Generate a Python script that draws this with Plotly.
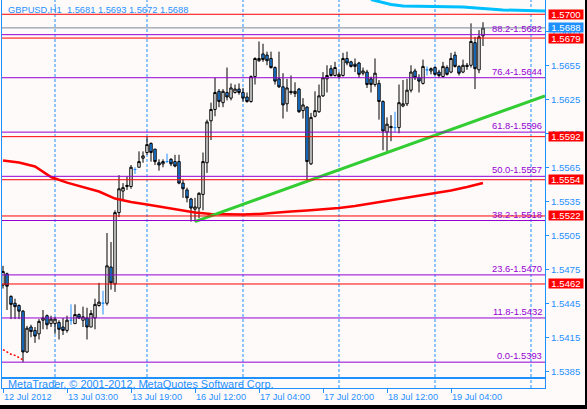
import plotly.graph_objects as go

# ---------------- data ----------------
open_ = [1.5461, 1.5471, 1.5451, 1.5445, 1.5443, 1.5438, 1.5402, 1.5424, 1.5421, 1.5418,
         1.5430, 1.5434, 1.5427, 1.5427, 1.5428, 1.5424, 1.5421, 1.5430, 1.5427, 1.5435,
         1.5430, 1.5432, 1.5424, 1.5432, 1.5443, 1.5445, 1.5445, 1.5477, 1.5462, 1.5525,
         1.5544, 1.5548, 1.5548, 1.5563, 1.5565, 1.5573, 1.5578, 1.5586, 1.5581, 1.5569,
         1.5568, 1.5570, 1.5572, 1.5570, 1.5570, 1.5551, 1.5545, 1.5537, 1.5528, 1.5529,
         1.5541, 1.5569, 1.5606, 1.5616, 1.5632, 1.5622, 1.5631, 1.5626, 1.5631, 1.5634,
         1.5631, 1.5627, 1.5623, 1.5645, 1.5659, 1.5665, 1.5664, 1.5661, 1.5653, 1.5643,
         1.5636, 1.5621, 1.5632, 1.5630, 1.5634, 1.5615, 1.5618, 1.5568, 1.5610, 1.5614,
         1.5628, 1.5643, 1.5652, 1.5646, 1.5645, 1.5646, 1.5661, 1.5658, 1.5656, 1.5657,
         1.5648, 1.5649, 1.5643, 1.5638, 1.5639, 1.5623, 1.5596, 1.5601, 1.5600, 1.5600,
         1.5619, 1.5621, 1.5633, 1.5650, 1.5644, 1.5639, 1.5651, 1.5650, 1.5653, 1.5649,
         1.5645, 1.5653, 1.5649, 1.5664, 1.5654, 1.5649, 1.5655, 1.5655, 1.5675, 1.5651,
         1.5681]
high = [1.5478, 1.5472, 1.5452, 1.5449, 1.5444, 1.5439, 1.5425, 1.5426, 1.5424, 1.5431,
        1.5439, 1.5435, 1.5434, 1.5433, 1.5430, 1.5432, 1.5434, 1.5444, 1.5444, 1.5436,
        1.5442, 1.5441, 1.5439, 1.5449, 1.5463, 1.5456, 1.5507, 1.5499, 1.5527, 1.5558,
        1.5551, 1.5557, 1.5567, 1.5565, 1.5579, 1.5579, 1.5592, 1.5587, 1.5581, 1.5572,
        1.5572, 1.5577, 1.5573, 1.5576, 1.5576, 1.5554, 1.5547, 1.5538, 1.5538, 1.5543,
        1.5578, 1.5607, 1.5622, 1.5644, 1.5634, 1.5634, 1.5653, 1.5639, 1.5638, 1.5639,
        1.5635, 1.5631, 1.5646, 1.5662, 1.5676, 1.5674, 1.5667, 1.5667, 1.5654, 1.5667,
        1.5648, 1.5643, 1.5646, 1.5640, 1.5635, 1.5626, 1.5619, 1.5613, 1.5632, 1.5638,
        1.5649, 1.5655, 1.5655, 1.5658, 1.5649, 1.5666, 1.5667, 1.5659, 1.5661, 1.5658,
        1.5653, 1.5651, 1.5645, 1.5661, 1.5642, 1.5624, 1.5609, 1.5611, 1.5614, 1.5638,
        1.5642, 1.5643, 1.5655, 1.5652, 1.5647, 1.5660, 1.5654, 1.5653, 1.5654, 1.5651,
        1.5658, 1.5655, 1.5666, 1.5667, 1.5655, 1.5660, 1.5657, 1.5692, 1.5680, 1.5686,
        1.5693]
low = [1.5458, 1.5439, 1.5431, 1.5431, 1.5431, 1.5393, 1.5401, 1.5415, 1.5410, 1.5413,
       1.5422, 1.5422, 1.5424, 1.5418, 1.5413, 1.5417, 1.5419, 1.5426, 1.5427, 1.5431,
       1.5424, 1.5413, 1.5424, 1.5422, 1.5442, 1.5435, 1.5443, 1.5457, 1.5455, 1.5521,
       1.5535, 1.5545, 1.5546, 1.5559, 1.5565, 1.5569, 1.5576, 1.5570, 1.5567, 1.5562,
       1.5565, 1.5569, 1.5566, 1.5565, 1.5550, 1.5538, 1.5534, 1.5517, 1.5517, 1.5520,
       1.5527, 1.5560, 1.5589, 1.5610, 1.5618, 1.5618, 1.5624, 1.5624, 1.5630, 1.5629,
       1.5623, 1.5622, 1.5622, 1.5638, 1.5658, 1.5658, 1.5655, 1.5652, 1.5638, 1.5635,
       1.5608, 1.5614, 1.5629, 1.5627, 1.5613, 1.5608, 1.5553, 1.5567, 1.5609, 1.5613,
       1.5627, 1.5631, 1.5645, 1.5645, 1.5643, 1.5645, 1.5655, 1.5653, 1.5649, 1.5644,
       1.5646, 1.5635, 1.5631, 1.5636, 1.5607, 1.5580, 1.5579, 1.5588, 1.5596, 1.5595,
       1.5618, 1.5619, 1.5631, 1.5642, 1.5631, 1.5638, 1.5646, 1.5647, 1.5646, 1.5644,
       1.5644, 1.5646, 1.5648, 1.5653, 1.5646, 1.5648, 1.5651, 1.5653, 1.5634, 1.5648,
       1.5672]
close = [1.5473, 1.5460, 1.5444, 1.5442, 1.5438, 1.5402, 1.5423, 1.5420, 1.5416, 1.5429,
         1.5432, 1.5426, 1.5431, 1.5431, 1.5422, 1.5421, 1.5430, 1.5430, 1.5435, 1.5432,
         1.5433, 1.5424, 1.5436, 1.5444, 1.5446, 1.5445, 1.5478, 1.5463, 1.5525, 1.5546,
         1.5547, 1.5549, 1.5565, 1.5563, 1.5570, 1.5575, 1.5585, 1.5578, 1.5570, 1.5567,
         1.5570, 1.5570, 1.5568, 1.5566, 1.5551, 1.5546, 1.5538, 1.5529, 1.5530, 1.5542,
         1.5570, 1.5605, 1.5616, 1.5631, 1.5623, 1.5632, 1.5627, 1.5635, 1.5634, 1.5631,
         1.5626, 1.5623, 1.5645, 1.5661, 1.5661, 1.5660, 1.5659, 1.5653, 1.5641, 1.5636,
         1.5620, 1.5635, 1.5631, 1.5632, 1.5614, 1.5620, 1.5570, 1.5609, 1.5615, 1.5628,
         1.5644, 1.5646, 1.5646, 1.5653, 1.5647, 1.5661, 1.5657, 1.5654, 1.5654, 1.5647,
         1.5650, 1.5638, 1.5638, 1.5648, 1.5623, 1.5597, 1.5603, 1.5600, 1.5600, 1.5622,
         1.5621, 1.5633, 1.5649, 1.5644, 1.5641, 1.5654, 1.5651, 1.5652, 1.5647, 1.5646,
         1.5654, 1.5647, 1.5661, 1.5654, 1.5648, 1.5655, 1.5654, 1.5676, 1.5652, 1.5680,
         1.5688]

tick_bars = [0, 16, 32, 48, 64, 80, 96, 112]
tick_labels = ["12 Jul 2012", "13 Jul 03:00", "13 Jul 19:00", "16 Jul 12:00",
               "17 Jul 04:00", "17 Jul 20:00", "18 Jul 12:00", "19 Jul 04:00"]
day_start_bars = [13, 36, 60, 84, 108, 132]

price_ticks = [1.5385, 1.5415, 1.5445, 1.5475, 1.5505, 1.5535, 1.5565, 1.5595, 1.5625, 1.5655, 1.5685]

ma_bars = [0, 4, 8, 12, 16, 20, 24, 28, 32, 36, 40, 44, 48, 52, 56, 60, 64, 68, 72, 76,
           80, 84, 88, 92, 96, 100, 104, 108, 112, 116, 120]
ma_red = [1.55710, 1.55692, 1.55657, 1.55564, 1.55514, 1.55473, 1.55436, 1.55374, 1.55344,
          1.55322, 1.55299, 1.55277, 1.55251, 1.55238, 1.55233, 1.55233, 1.55238, 1.55246,
          1.55260, 1.55269, 1.55277, 1.55291, 1.55308, 1.55330, 1.55352, 1.55374, 1.55397,
          1.55423, 1.55445, 1.55476, 1.55511]

ma2_bars = [92, 97, 100, 115, 125, 135.5]
ma_cyan = [1.5713, 1.57086, 1.57073, 1.57064, 1.57038, 1.57029]

dots_bars = [0, 1, 2, 3, 4, 5]
dots_red = [1.5404, 1.5402, 1.5400, 1.5399, 1.5397, 1.5395]

trend_bars = [48, 135.5]
trend_prices = [1.5517, 1.5628]

fib_pct = ["0.0", "11.8", "23.6", "38.2", "50.0", "61.8", "76.4", "88.2"]
fib_prices = [1.5393, 1.5432, 1.5470, 1.5518, 1.5557, 1.5596, 1.5644, 1.5682]

red_levels = [1.5700, 1.5679, 1.5592, 1.5554, 1.5522, 1.5462]
bid_level = 1.5688

header_text = "GBPUSD,H1\u00a0\u00a01.5681 1.5693 1.5672 1.5688"
footer_text = "MetaTrader, © 2001-2012, MetaQuotes Software Corp."

# ---------------- styling ----------------
BLUE = "#1E90FF"
BG = "#FFFAFA"
VIOLET = "#9400D3"
FONT = "Liberation Sans, Arial, sans-serif"

# figure is 585x405; the remaining 2px / 4px of the window show the black page
W, H = 585, 405
ML, MR, MT, MB = 2, 40, 0, 17
plot_h = H - MT - MB          # 388
main_bottom_px = 377
strip_top_px = 379
y_top, y_bot = 1.57126, 1.53799

bars = list(range(len(open_)))
nd = [i for i in bars if open_[i] != close[i]]
dj = [i for i in bars if open_[i] == close[i]]

fig = go.Figure()

fig.add_trace(go.Candlestick(
    x=nd, open=[open_[i] for i in nd], high=[high[i] for i in nd],
    low=[low[i] for i in nd], close=[close[i] for i in nd],
    increasing=dict(line=dict(color="black", width=1), fillcolor="white"),
    decreasing=dict(line=dict(color="black", width=1), fillcolor=BLUE),
    whiskerwidth=0, hoverinfo="skip", showlegend=False, xaxis="x", yaxis="y"))
fig.add_trace(go.Candlestick(
    x=dj, open=[open_[i] for i in dj], high=[high[i] for i in dj],
    low=[low[i] for i in dj], close=[close[i] for i in dj],
    increasing=dict(line=dict(color=BLUE, width=1), fillcolor=BLUE),
    decreasing=dict(line=dict(color=BLUE, width=1), fillcolor=BLUE),
    whiskerwidth=0, hoverinfo="skip", showlegend=False, xaxis="x", yaxis="y"))

fig.add_trace(go.Scatter(x=ma_bars, y=ma_red, mode="lines",
                         line=dict(color="#FF0000", width=2.5), hoverinfo="skip", showlegend=False))
fig.add_trace(go.Scatter(x=ma2_bars, y=ma_cyan, mode="lines",
                         line=dict(color="#00BFFF", width=3), hoverinfo="skip", showlegend=False))
fig.add_trace(go.Scatter(x=dots_bars, y=dots_red, mode="lines",
                         line=dict(color="#FF0000", width=1.5, dash="2px,2px"), hoverinfo="skip", showlegend=False))
fig.add_trace(go.Scatter(x=trend_bars, y=trend_prices, mode="lines",
                         line=dict(color="#32CD32", width=3), hoverinfo="skip", showlegend=False))

shapes = []
for b in day_start_bars:
    for yr in ("y domain", "y2 domain"):
        shapes.append(dict(type="line", xref="x", x0=b, x1=b, yref=yr, y0=0, y1=1, layer="below",
                           line=dict(color=BLUE, width=1, dash="3px,2px")))
for p in fib_prices:
    shapes.append(dict(type="line", xref="paper", x0=0, x1=1, yref="y", y0=p, y1=p,
                       line=dict(color=VIOLET, width=1)))
for p in red_levels:
    shapes.append(dict(type="line", xref="paper", x0=0, x1=1, yref="y", y0=p, y1=p,
                       line=dict(color="#FF0000", width=1)))
shapes.append(dict(type="line", xref="paper", x0=0, x1=1, yref="y", y0=bid_level, y1=bid_level,
                   line=dict(color="#778899", width=1)))

ann = []
ann.append(dict(text=header_text, xref="paper", x=0, xanchor="left", xshift=4,
                yref="paper", y=1, yanchor="top", yshift=-3, showarrow=False,
                font=dict(family=FONT, size=9.3, color=BLUE)))
ann.append(dict(text=footer_text, xref="paper", x=0, xanchor="left", xshift=4,
                yref="y2", y=0.5, yanchor="middle", showarrow=False,
                font=dict(family=FONT, size=10.9, color=BLUE)))
for pct, p in zip(fib_pct, fib_prices):
    ann.append(dict(text=f"{pct}-{p:.4f}", xref="paper", x=1, xanchor="right", xshift=-1,
                    yref="y", y=p, yanchor="bottom", yshift=-1, showarrow=False,
                    font=dict(family=FONT, size=9.4, color=VIOLET)))
for p in red_levels:
    ann.append(dict(text=f"{p:.4f}", xref="paper", x=1, xanchor="left", xshift=3,
                    yref="y", y=p, yanchor="middle", showarrow=False, bgcolor="#FF0000",
                    width=34, height=9, borderpad=0,
                    font=dict(family=FONT, size=9.6, color="white")))
ann.append(dict(text=f"{bid_level:.4f}", xref="paper", x=1, xanchor="left", xshift=3,
                yref="y", y=bid_level, yanchor="middle", showarrow=False, bgcolor=BLUE,
                width=34, height=9, borderpad=0,
                font=dict(family=FONT, size=9.6, color="white")))

d_main0 = (plot_h - main_bottom_px) / plot_h
d_strip1 = (plot_h - strip_top_px) / plot_h

fig.update_layout(
    width=W, height=H, margin=dict(l=ML, r=MR, t=MT, b=MB, autoexpand=False),
    paper_bgcolor=BG, plot_bgcolor=BG, showlegend=False, boxgap=0.15,
    font=dict(family=FONT, size=9.5, color=BLUE),
    xaxis=dict(domain=[0, 1], anchor="y", range=[-0.25, 135.5], showticklabels=False, ticks="",
               showgrid=False, zeroline=False, showline=True, mirror=True, linecolor=BLUE,
               linewidth=1, rangeslider=dict(visible=False), fixedrange=True),
    yaxis=dict(domain=[d_main0, 1], anchor="x", side="right", range=[y_bot, y_top],
               tickvals=price_ticks, ticktext=[f"{v:.4f}" for v in price_ticks],
               ticks="outside", ticklen=3, tickcolor=BLUE, tickfont=dict(family=FONT, size=9.6, color=BLUE),
               showgrid=False, zeroline=False, showline=True, mirror=True, linecolor=BLUE, linewidth=1,
               fixedrange=True),
    xaxis2=dict(domain=[0, 1], anchor="y2", matches="x", range=[-0.25, 135.5],
                tickvals=tick_bars, ticktext=tick_labels, ticks="outside", ticklen=4, tickcolor=BLUE,
                ticklabelposition="outside right", tickangle=0,
                tickfont=dict(family=FONT, size=9.2, color=BLUE),
                showgrid=False, zeroline=False, showline=True, mirror=True, linecolor=BLUE, linewidth=1,
                fixedrange=True),
    yaxis2=dict(domain=[0, d_strip1], anchor="x2", range=[0, 1], showticklabels=False, ticks="",
                showgrid=False, zeroline=False, showline=True, mirror=True, linecolor=BLUE, linewidth=1,
                fixedrange=True),
    shapes=shapes, annotations=ann,
)

fig.write_html("out.html", config={"displayModeBar": False},
               post_script="document.body.style.margin='0px';document.body.style.overflow='hidden';"
                           "document.body.style.background='black';"
                           "document.documentElement.style.background='black';")
